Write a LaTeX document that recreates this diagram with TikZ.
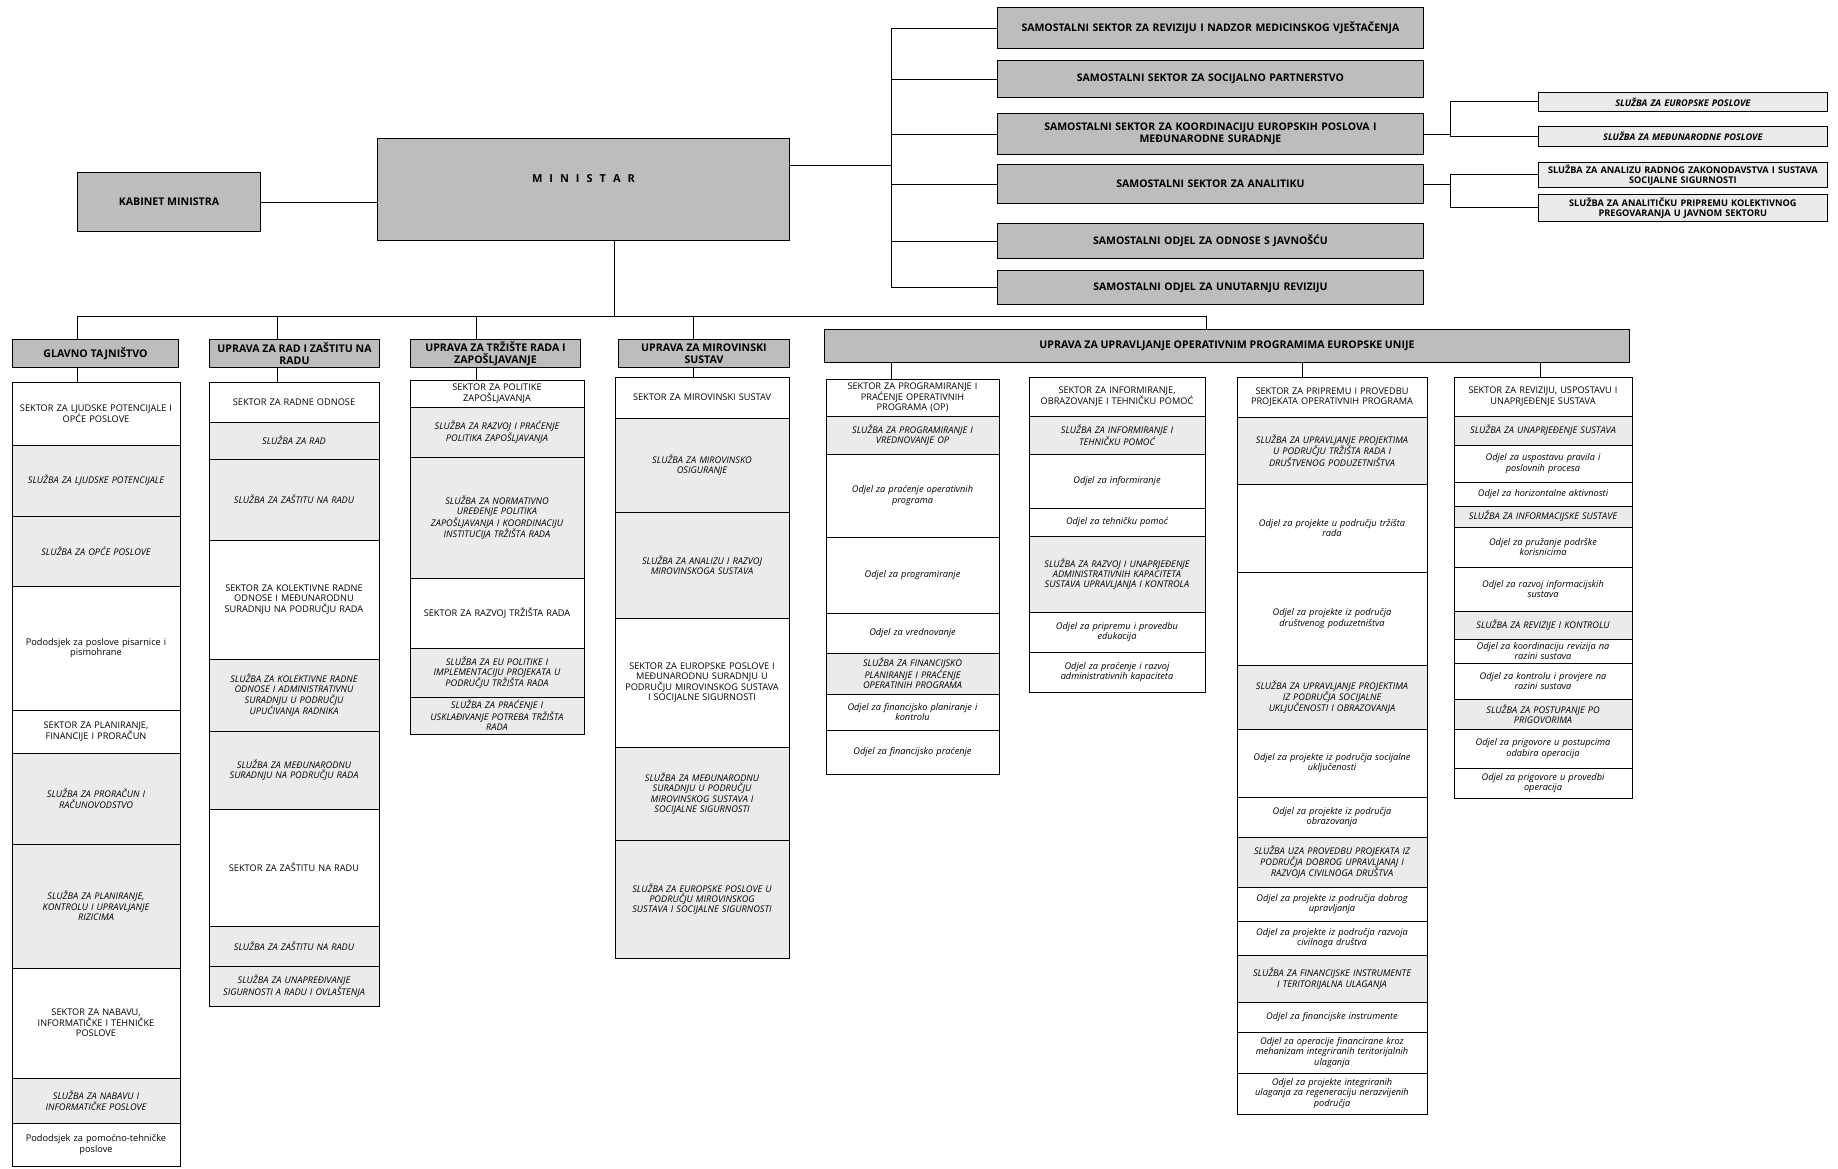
\documentclass[tikz,border=0pt]{standalone}
\usepackage{fontspec}
\setmainfont{Open Sans}
\usetikzlibrary{positioning}
\definecolor{boxgray}{gray}{0.74}
\definecolor{cellgray}{gray}{0.92}
\newcommand\minfont{\fontsize{11}{13}\selectfont\bfseries\spaceskip=7pt plus 1pt\relax}

\begin{document}
\begin{tikzpicture}[x=1pt,y=-1pt,node distance=0pt,
  dark/.style={draw,fill=boxgray,line width=0.9pt,inner sep=1pt,align=center,font=\fontsize{10.6}{11.6}\selectfont\bfseries},
  topbox/.style={dark,anchor=north west,minimum width=426pt,text width=420pt,font=\fontsize{10.5}{12}\selectfont\bfseries},
  hdr/.style={dark,anchor=north west,minimum height=28pt},
  side/.style={draw,fill=cellgray,line width=0.7pt,anchor=north west,minimum width=289pt,text width=285pt,inner sep=0pt,align=center,font=\fontsize{9.2}{10.2}\selectfont\bfseries},
  cell/.style={draw,line width=0.7pt,outer sep=0pt,inner xsep=2pt,inner ysep=0pt,align=center,font=\fontsize{9.2}{10.4}\selectfont},
  sek/.style={cell,fill=white},
  slu/.style={cell,fill=cellgray,font=\fontsize{9.2}{10.4}\selectfont\itshape},
  odj/.style={cell,fill=white,font=\fontsize{9.2}{10.4}\selectfont\itshape},
  pod/.style={cell,fill=white},
  w1/.style={minimum width=168pt,text width=164pt},
  w2/.style={minimum width=170pt,text width=166pt},
  w3/.style={minimum width=174pt,text width=170pt},
  w4/.style={minimum width=174pt,text width=170pt},
  w5/.style={minimum width=173pt,text width=169pt},
  w6/.style={minimum width=176pt,text width=172pt},
  w7/.style={minimum width=190pt,text width=186pt},
  w8/.style={minimum width=178pt,text width=174pt},
  ln/.style={line width=0.8pt}]
\fill[white] (0,0) rectangle (1838,1168);
\useasboundingbox (0,0) rectangle (1838,1168);

% top level
\node[dark,anchor=north west,minimum width=183pt,minimum height=59pt] (kab) at (77,172) {KABINET MINISTRA};
\node[dark,anchor=north west,minimum width=412pt,minimum height=102pt,font=\minfont] (min) at (377,138) {M I N I S T A R\\[8pt]};

\node[topbox,minimum height=41pt] (s1) at (997,7) {SAMOSTALNI SEKTOR ZA REVIZIJU I NADZOR MEDICINSKOG VJEŠTAČENJA};
\node[topbox,minimum height=37pt] (s2) at (997,60) {SAMOSTALNI SEKTOR ZA SOCIJALNO PARTNERSTVO};
\node[topbox,minimum height=41pt] (s3) at (997,113) {SAMOSTALNI SEKTOR ZA KOORDINACIJU EUROPSKIH POSLOVA I\\MEĐUNARODNE SURADNJE};
\node[topbox,minimum height=39pt] (s4) at (997,164) {SAMOSTALNI SEKTOR ZA ANALITIKU};
\node[topbox,minimum height=35pt] (s5) at (997,223) {SAMOSTALNI ODJEL ZA ODNOSE S JAVNOŠĆU};
\node[topbox,minimum height=34pt] (s6) at (997,270) {SAMOSTALNI ODJEL ZA UNUTARNJU REVIZIJU};

\node[side,minimum height=19pt,font=\fontsize{9.2}{10.2}\selectfont\bfseries\itshape] (r1) at (1538,92) {SLUŽBA ZA EUROPSKE POSLOVE};
\node[side,minimum height=20pt,font=\fontsize{9.2}{10.2}\selectfont\bfseries\itshape] (r2) at (1538,126) {SLUŽBA ZA MEĐUNARODNE POSLOVE};
\node[side,minimum height=25pt] (r3) at (1538,162) {SLUŽBA ZA ANALIZU RADNOG ZAKONODAVSTVA I SUSTAVA\\SOCIJALNE SIGURNOSTI};
\node[side,minimum height=27pt] (r4) at (1538,194) {SLUŽBA ZA ANALITIČKU PRIPREMU KOLEKTIVNOG\\PREGOVARANJA U JAVNOM SEKTORU};

% uprave
\node[hdr,minimum width=166pt] (h1) at (12,339) {GLAVNO TAJNIŠTVO};
\node[hdr,minimum width=170pt] (h2) at (209,339) {UPRAVA ZA RAD I ZAŠTITU NA\\RADU};
\node[hdr,minimum width=170pt] (h3) at (410,339) {UPRAVA ZA TRŽIŠTE RADA I\\ZAPOŠLJAVANJE};
\node[hdr,minimum width=171pt] (h4) at (618,339) {UPRAVA ZA MIROVINSKI\\SUSTAV};
\node[hdr,minimum width=805pt,minimum height=33pt] (eu) at (824,329) {UPRAVA ZA UPRAVLJANJE OPERATIVNIM PROGRAMIMA EUROPSKE UNIJE};

% glavno tajnistvo
\node[sek,w1,minimum height=63pt,anchor=north west] (c1a) at (12,382) {SEKTOR ZA LJUDSKE POTENCIJALE I\\OPĆE POSLOVE};
\node[slu,w1,minimum height=71pt,below=of c1a] (c1b) {SLUŽBA ZA LJUDSKE POTENCIJALE};
\node[slu,w1,minimum height=70pt,below=of c1b] (c1c) {SLUŽBA ZA OPĆE POSLOVE};
\node[pod,w1,minimum height=124pt,below=of c1c] (c1d) {Pododsjek za poslove pisarnice i\\pismohrane};
\node[sek,w1,minimum height=43pt,below=of c1d] (c1e) {SEKTOR ZA PLANIRANJE,\\FINANCIJE I PRORAČUN};
\node[slu,w1,minimum height=91pt,below=of c1e] (c1f) {SLUŽBA ZA PRORAČUN I\\RAČUNOVODSTVO};
\node[slu,w1,minimum height=124pt,below=of c1f] (c1g) {SLUŽBA ZA PLANIRANJE,\\KONTROLU I UPRAVLJANJE\\RIZICIMA};
\node[sek,w1,minimum height=110pt,below=of c1g] (c1h) {SEKTOR ZA NABAVU,\\INFORMATIČKE I TEHNIČKE\\POSLOVE};
\node[slu,w1,minimum height=45pt,below=of c1h] (c1i) {SLUŽBA ZA NABAVU I\\INFORMATIČKE POSLOVE};
\node[pod,w1,minimum height=43pt,below=of c1i] (c1j) {Pododsjek za pomoćno-tehničke\\poslove};

% rad i zastita na radu
\node[sek,w2,minimum height=40pt,anchor=north west] (c2a) at (209,382) {SEKTOR ZA RADNE ODNOSE};
\node[slu,w2,minimum height=37pt,below=of c2a] (c2b) {SLUŽBA ZA RAD};
\node[slu,w2,minimum height=81pt,below=of c2b] (c2c) {SLUŽBA ZA ZAŠTITU NA RADU};
\node[sek,w2,minimum height=119pt,below=of c2c] (c2d) {SEKTOR ZA KOLEKTIVNE RADNE\\ODNOSE I MEĐUNARODNU\\SURADNJU NA PODRUČJU RADA};
\node[slu,w2,minimum height=72pt,below=of c2d] (c2e) {SLUŽBA ZA KOLEKTIVNE RADNE\\ODNOSE I ADMINISTRATIVNU\\SURADNJU U PODRUČJU\\UPUĆIVANJA RADNIKA};
\node[slu,w2,minimum height=78pt,below=of c2e] (c2f) {SLUŽBA ZA MEĐUNARODNU\\SURADNJU NA PODRUČJU RADA};
\node[sek,w2,minimum height=117pt,below=of c2f] (c2g) {SEKTOR ZA ZAŠTITU NA RADU};
\node[slu,w2,minimum height=40pt,below=of c2g] (c2h) {SLUŽBA ZA ZAŠTITU NA RADU};
\node[slu,w2,minimum height=40pt,below=of c2h] (c2i) {SLUŽBA ZA UNAPREĐIVANJE\\SIGURNOSTI A RADU I OVLAŠTENJA};

% trziste rada
\node[sek,w3,minimum height=27pt,anchor=north west] (c3a) at (410,380) {SEKTOR ZA POLITIKE\\ZAPOŠLJAVANJA};
\node[slu,w3,minimum height=50pt,below=of c3a] (c3b) {SLUŽBA ZA RAZVOJ I PRAĆENJE\\POLITIKA ZAPOŠLJAVANJA};
\node[slu,w3,minimum height=121pt,below=of c3b] (c3c) {SLUŽBA ZA NORMATIVNO\\UREĐENJE POLITIKA\\ZAPOŠLJAVANJA I KOORDINACIJU\\INSTITUCIJA TRŽIŠTA RADA};
\node[sek,w3,minimum height=70pt,below=of c3c] (c3d) {SEKTOR ZA RAZVOJ TRŽIŠTA RADA};
\node[slu,w3,minimum height=49pt,below=of c3d] (c3e) {SLUŽBA ZA EU POLITIKE I\\IMPLEMENTACIJU PROJEKATA U\\PODRUČJU TRŽIŠTA RADA};
\node[slu,w3,minimum height=37pt,below=of c3e] (c3f) {SLUŽBA ZA PRAĆENJE I\\USKLAĐIVANJE POTREBA TRŽIŠTA\\RADA};

% mirovinski sustav
\node[sek,w4,minimum height=41pt,anchor=north west] (c4a) at (615,377) {SEKTOR ZA MIROVINSKI SUSTAV};
\node[slu,w4,minimum height=94pt,below=of c4a] (c4b) {SLUŽBA ZA MIROVINSKO\\OSIGURANJE};
\node[slu,w4,minimum height=106pt,below=of c4b] (c4c) {SLUŽBA ZA ANALIZU I RAZVOJ\\MIROVINSKOGA SUSTAVA};
\node[sek,w4,minimum height=129pt,below=of c4c] (c4d) {SEKTOR ZA EUROPSKE POSLOVE I\\MEĐUNARODNU SURADNJU U\\PODRUČJU MIROVINSKOG SUSTAVA\\I SOCIJALNE SIGURNOSTI};
\node[slu,w4,minimum height=93pt,below=of c4d] (c4e) {SLUŽBA ZA MEĐUNARODNU\\SURADNJU U PODRUČJU\\MIROVINSKOG SUSTAVA I\\SOCIJALNE SIGURNOSTI};
\node[slu,w4,minimum height=118pt,below=of c4e] (c4f) {SLUŽBA ZA EUROPSKE POSLOVE U\\PODRUČJU MIROVINSKOG\\SUSTAVA I SOCIJALNE SIGURNOSTI};

% EU: programiranje
\node[sek,w5,minimum height=37pt,anchor=north west] (c5a) at (826,379) {SEKTOR ZA PROGRAMIRANJE I\\PRAĆENJE OPERATIVNIH\\PROGRAMA (OP)};
\node[slu,w5,minimum height=38pt,below=of c5a] (c5b) {SLUŽBA ZA PROGRAMIRANJE I\\VREDNOVANJE OP};
\node[odj,w5,minimum height=83pt,below=of c5b] (c5c) {Odjel za praćenje operativnih\\programa};
\node[odj,w5,minimum height=76pt,below=of c5c] (c5d) {Odjel za programiranje};
\node[odj,w5,minimum height=40pt,below=of c5d] (c5e) {Odjel za vrednovanje};
\node[slu,w5,minimum height=41pt,below=of c5e] (c5f) {SLUŽBA ZA FINANCIJSKO\\PLANIRANJE I PRAĆENJE\\OPERATINIH PROGRAMA};
\node[odj,w5,minimum height=36pt,below=of c5f] (c5g) {Odjel za financijsko planiranje i\\kontrolu};
\node[odj,w5,minimum height=44pt,below=of c5g] (c5h) {Odjel za financijsko praćenje};

% EU: informiranje
\node[sek,w6,minimum height=39pt,anchor=north west] (c6a) at (1029,377) {SEKTOR ZA INFORMIRANJE,\\OBRAZOVANJE I TEHNIČKU POMOĆ};
\node[slu,w6,minimum height=38pt,below=of c6a] (c6b) {SLUŽBA ZA INFORMIRANJE I\\TEHNIČKU POMOĆ};
\node[odj,w6,minimum height=54pt,below=of c6b] (c6c) {Odjel za informiranje};
\node[odj,w6,minimum height=28pt,below=of c6c] (c6d) {Odjel za tehničku pomoć};
\node[slu,w6,minimum height=76pt,below=of c6d] (c6e) {SLUŽBA ZA RAZVOJ I UNAPRJEĐENJE\\ADMINISTRATIVNIH KAPACITETA\\SUSTAVA UPRAVLJANJA I KONTROLA};
\node[odj,w6,minimum height=40pt,below=of c6e] (c6f) {Odjel za pripremu i provedbu\\edukacija};
\node[odj,w6,minimum height=40pt,below=of c6f] (c6g) {Odjel za praćenje i razvoj\\administrativnih kapaciteta};

% EU: priprema i provedba
\node[sek,w7,minimum height=40pt,anchor=north west] (c7a) at (1237,377) {SEKTOR ZA PRIPREMU I PROVEDBU\\PROJEKATA OPERATIVNIH PROGRAMA};
\node[slu,w7,minimum height=67pt,below=of c7a] (c7b) {SLUŽBA ZA UPRAVLJANJE PROJEKTIMA\\U PODRUČJU TRŽIŠTA RADA I\\DRUŠTVENOG PODUZETNIŠTVA};
\node[odj,w7,minimum height=88pt,below=of c7b] (c7c) {Odjel za projekte u području tržišta\\rada};
\node[odj,w7,minimum height=93pt,below=of c7c] (c7d) {Odjel za projekte iz područja\\društvenog poduzetništva};
\node[slu,w7,minimum height=64pt,below=of c7d] (c7e) {SLUŽBA ZA UPRAVLJANJE PROJEKTIMA\\IZ PODRUČJA SOCIJALNE\\UKLJUČENOSTI I OBRAZOVANJA};
\node[odj,w7,minimum height=68pt,below=of c7e] (c7f) {Odjel za projekte iz područja socijalne\\uključenosti};
\node[odj,w7,minimum height=40pt,below=of c7f] (c7g) {Odjel za projekte iz područja\\obrazovanja};
\node[slu,w7,minimum height=50pt,below=of c7g] (c7h) {SLUŽBA UZA PROVEDBU PROJEKATA IZ\\PODRUČJA DOBROG UPRAVLJANAJ I\\RAZVOJA CIVILNOGA DRUŠTVA};
\node[odj,w7,minimum height=34pt,below=of c7h] (c7i) {Odjel za projekte iz područja dobrog\\upravljanja};
\node[odj,w7,minimum height=34pt,below=of c7i] (c7j) {Odjel za projekte iz područja razvoja\\civilnoga društva};
\node[slu,w7,minimum height=47pt,below=of c7j] (c7k) {SLUŽBA ZA FINANCIJSKE INSTRUMENTE\\I TERITORIJALNA ULAGANJA};
\node[odj,w7,minimum height=30pt,below=of c7k] (c7l) {Odjel za financijske instrumente};
\node[odj,w7,minimum height=41pt,below=of c7l] (c7m) {Odjel za operacije financirane kroz\\mehanizam integriranih teritorijalnih\\ulaganja};
\node[odj,w7,minimum height=41pt,below=of c7m] (c7n) {Odjel za projekte integriranih\\ulaganja za regeneraciju nerazvijenih\\područja};

% EU: revizija
\node[sek,w8,minimum height=39pt,anchor=north west] (c8a) at (1454,377) {SEKTOR ZA REVIZIJU, USPOSTAVU I\\UNAPRJEĐENJE SUSTAVA};
\node[slu,w8,minimum height=29pt,below=of c8a] (c8b) {SLUŽBA ZA UNAPRJEĐENJE SUSTAVA};
\node[odj,w8,minimum height=37pt,below=of c8b] (c8c) {Odjel za uspostavu pravila i\\poslovnih procesa};
\node[odj,w8,minimum height=24pt,below=of c8c] (c8d) {Odjel za horizontalne aktivnosti};
\node[slu,w8,minimum height=21pt,below=of c8d] (c8e) {SLUŽBA ZA INFORMACIJSKE SUSTAVE};
\node[odj,w8,minimum height=40pt,below=of c8e] (c8f) {Odjel za pružanje podrške\\korisnicima};
\node[odj,w8,minimum height=44pt,below=of c8f] (c8g) {Odjel za razvoj informacijskih\\sustava};
\node[slu,w8,minimum height=28pt,below=of c8g] (c8h) {SLUŽBA ZA REVIZIJE I KONTROLU};
\node[odj,w8,minimum height=24pt,below=of c8h] (c8i) {Odjel za koordinaciju revizija na\\razini sustava};
\node[odj,w8,minimum height=36pt,below=of c8i] (c8j) {Odjel za kontrolu i provjere na\\razini sustava};
\node[slu,w8,minimum height=30pt,below=of c8j] (c8k) {SLUŽBA ZA POSTUPANJE PO\\PRIGOVORIMA};
\node[odj,w8,minimum height=39pt,below=of c8k] (c8l) {Odjel za prigovore u postupcima\\odabira operacija};
\node[odj,w8,minimum height=30pt,below=of c8l] (c8m) {Odjel za prigovore u provedbi\\operacija};

% connectors
\coordinate (tx) at (891,0);
\coordinate (rx) at (1450,0);
\coordinate (bus) at (0,316);
\draw[ln] (kab.east) -- (kab.east -| min.west);
\draw[ln] ([yshift=24pt]min.east) -- ([yshift=24pt]min.east -| tx);
\draw[ln] (s1.west -| tx) -- (s6.west -| tx);
\foreach \s in {s1,s2,s3,s4,s5,s6}
  \draw[ln] (\s.west -| tx) -- (\s.west);
\draw[ln] (s3.east) -- (s3.east -| rx);
\draw[ln] (s4.east) -- (s4.east -| rx);
\draw[ln] (r1.west -| rx) -- (r2.west -| rx);
\draw[ln] (r3.west -| rx) -- (r4.west -| rx);
\foreach \r in {r1,r2,r3,r4}
  \draw[ln] (\r.west -| rx) -- (\r.west);
\draw[ln] ([xshift=31pt]min.south) -- ([xshift=31pt]min.south |- bus);
\draw[ln] ([xshift=-18pt]h1.north |- bus) -- ([xshift=-21pt]eu.north |- bus);
\draw[ln] ([xshift=-21pt]eu.north |- bus) -- ([xshift=-21pt]eu.north);
\foreach \h/\c/\d in {h1/c1a/-18,h2/c2a/-17,h3/c3a/-19,h4/c4a/-11} {
  \draw[ln] ([xshift=\d pt]\h.north |- bus) -- ([xshift=\d pt]\h.north);
  \draw[ln] ([xshift=\d pt]\h.south) -- ([xshift=\d pt]\h.south |- \c.north);
}
\foreach \c/\d in {c5a/-21,c7a/-30,c8a/-3}
  \draw[ln] ([xshift=\d pt]\c.north) -- ([xshift=\d pt]\c.north |- eu.south);
\end{tikzpicture}
\end{document}
